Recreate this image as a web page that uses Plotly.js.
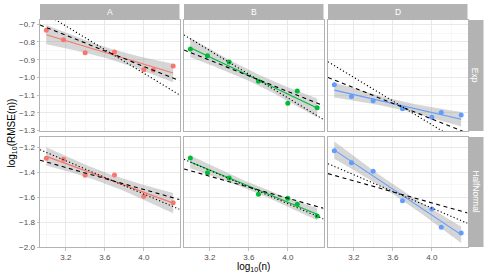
<!DOCTYPE html>
<html>
<head>
<meta charset="utf-8">
<script src="https://cdn.plot.ly/plotly-3.0.1.min.js"></script>
<style>html,body{margin:0;padding:0;background:#fff;}#chart{width:488px;height:279px;}</style>
</head>
<body>
<div id="chart"></div>
<script>
// ---- data ----
const logN = [3.000, 3.176, 3.398, 3.699, 4.000, 4.097, 4.301];
const columns = ["A", "B", "D"];
const rows = ["Exp", "HalfNormal"];
const colColors = ["#F8766D", "#00BA38", "#619CFF"];

const A_Exp = [-0.734, -0.787, -0.860, -0.857, -0.956, -0.958, -0.936];
const B_Exp = [-0.840, -0.877, -0.913, -1.022, -1.145, -1.077, -1.171];
const D_Exp = [-1.041, -1.107, -1.132, -1.177, -1.225, -1.197, -1.212];
const A_HN  = [-1.290, -1.298, -1.426, -1.424, -1.594, null, -1.645];
const B_HN  = [-1.288, -1.405, -1.448, -1.578, -1.610, -1.658, -1.752];
const D_HN  = [-1.229, -1.325, -1.394, -1.629, -1.696, -1.842, -1.888];

// reference lines: value at log10(n)=3 and slope
const dashedAt3 = [-0.718, -0.859, -1.014, -1.320, -1.390, -1.427];
const dottedAt3 = [-0.643, -0.782, -0.933, -1.243, -1.320, -1.355];
const dashedSlope = -0.22;
const dottedSlope = -1/3;

const yTickTop = [-1.3, -1.2, -1.1, -1.0, -0.9, -0.8, -0.7];
const yTickBot = [-2.0, -1.8, -1.6, -1.4, -1.2];
const xTicks = [3.2, 3.6, 4.0];

// ---- layout geometry ----
const W = 488, H = 279;
const colPx = [[40, 179.5], [184, 323.5], [328, 467.5]];
const rowPx = [[20, 131], [137, 247]];
const xRange = [2.935, 4.366];
const yRanges = [[-1.302, -0.676], [-2.0, -1.12]];

const panels = [[A_Exp, B_Exp, D_Exp], [A_HN, B_HN, D_HN]];

function lmFit(x, y) {
  const px = [], py = [];
  for (let i = 0; i < x.length; i++) if (y[i] !== null) { px.push(x[i]); py.push(y[i]); }
  const n = px.length;
  const mx = px.reduce((a, b) => a + b, 0) / n;
  const my = py.reduce((a, b) => a + b, 0) / n;
  let sxx = 0, sxy = 0;
  for (let i = 0; i < n; i++) { sxx += (px[i] - mx) ** 2; sxy += (px[i] - mx) * (py[i] - my); }
  const b = sxy / sxx, a = my - b * mx;
  let sse = 0;
  for (let i = 0; i < n; i++) sse += (py[i] - a - b * px[i]) ** 2;
  const s = Math.sqrt(sse / (n - 2));
  const tq = {4: 2.776, 5: 2.571}[n - 2] || 2.5;
  const xmin = Math.min(...px), xmax = Math.max(...px);
  const gx = [], gy = [], lo = [], hi = [];
  for (let k = 0; k <= 80; k++) {
    const xx = xmin + (xmax - xmin) * k / 80;
    const yy = a + b * xx;
    const se = s * Math.sqrt(1 / n + (xx - mx) ** 2 / sxx);
    gx.push(xx); gy.push(yy); lo.push(yy - tq * se); hi.push(yy + tq * se);
  }
  return {gx, gy, lo, hi};
}

const traces = [];
const layout = {
  width: W, height: H,
  margin: {l: 0, r: 0, t: 0, b: 0},
  paper_bgcolor: "#ffffff", plot_bgcolor: "#ffffff",
  showlegend: false,
  font: {family: "Liberation Sans, Arial, sans-serif", size: 8, color: "#4D4D4D"},
  shapes: [], annotations: []
};

let idx = 0;
for (let r = 0; r < 2; r++) {
  for (let c = 0; c < 3; c++) {
    idx++;
    const xa = idx === 1 ? "x" : "x" + idx;
    const ya = idx === 1 ? "y" : "y" + idx;
    const xk = idx === 1 ? "xaxis" : "xaxis" + idx;
    const yk = idx === 1 ? "yaxis" : "yaxis" + idx;
    const yv = panels[r][c];
    const col = colColors[c];
    const fit = lmFit(logN, yv);
    // ribbon
    traces.push({x: fit.gx.concat(fit.gx.slice().reverse()), y: fit.hi.concat(fit.lo.slice().reverse()),
      xaxis: xa, yaxis: ya, type: "scatter", mode: "lines", fill: "toself",
      fillcolor: "rgba(153,153,153,0.4)", line: {width: 0}, hoverinfo: "skip"});
    // fit line
    traces.push({x: fit.gx, y: fit.gy, xaxis: xa, yaxis: ya, type: "scatter", mode: "lines",
      line: {color: col, width: 1.1}});
    // points
    traces.push({x: logN, y: yv, xaxis: xa, yaxis: ya, type: "scatter", mode: "markers",
      marker: {color: col, size: 5}});
    // reference lines
    const p = idx - 1;
    const xs = [xRange[0], xRange[1]];
    traces.push({x: xs, y: xs.map(v => dashedAt3[p] + dashedSlope * (v - 3)), xaxis: xa, yaxis: ya,
      type: "scatter", mode: "lines", line: {color: "#000000", width: 1.1, dash: "4px,3.5px"}});
    traces.push({x: xs, y: xs.map(v => dottedAt3[p] + dottedSlope * (v - 3)), xaxis: xa, yaxis: ya,
      type: "scatter", mode: "lines", line: {color: "#000000", width: 1.1, dash: "1.2px,2.3px"}});

    const xd = [colPx[c][0] / W, colPx[c][1] / W];
    const yd = [1 - rowPx[r][1] / H, 1 - rowPx[r][0] / H];
    layout[xk] = {
      domain: xd, range: xRange, anchor: ya,
      tickmode: "array", tickvals: xTicks, ticktext: xTicks.map(v => v.toFixed(1)),
      showticklabels: r === 1, ticks: r === 1 ? "outside" : "", ticklen: 2.5, tickwidth: 0.8, tickcolor: "#B3B3B3",
      tickfont: {size: 8, color: "#4D4D4D"},
      showgrid: true, gridcolor: "#E3E3E3", gridwidth: 0.8,
      minor: {tickmode: "array", tickvals: [3.0, 3.4, 3.8, 4.2], showgrid: true, gridcolor: "#F1F1F1", gridwidth: 0.6},
      showline: true, mirror: true, linecolor: "#B3B3B3", linewidth: 1,
      zeroline: false, fixedrange: true
    };
    const yt = r === 0 ? yTickTop : yTickBot;
    const ym = r === 0 ? [-1.25, -1.15, -1.05, -0.95, -0.85, -0.75] : [-1.9, -1.7, -1.5, -1.3];
    layout[yk] = {
      domain: yd, range: yRanges[r], anchor: xa,
      tickmode: "array", tickvals: yt, ticktext: yt.map(v => "\u2212" + Math.abs(v).toFixed(1)),
      showticklabels: c === 0, ticks: c === 0 ? "outside" : "", ticklen: 2.5, tickwidth: 0.8, tickcolor: "#B3B3B3",
      tickfont: {size: 8, color: "#4D4D4D"},
      showgrid: true, gridcolor: "#E3E3E3", gridwidth: 0.8,
      minor: {tickmode: "array", tickvals: ym, showgrid: true, gridcolor: "#F1F1F1", gridwidth: 0.6},
      showline: true, mirror: true, linecolor: "#B3B3B3", linewidth: 1,
      zeroline: false, fixedrange: true
    };
  }
}

// strips
const topStrip = [4 / H, 19.3 / H];
columns.forEach((lab, c) => {
  layout.shapes.push({type: "rect", xref: "paper", yref: "paper",
    x0: colPx[c][0] / W, x1: colPx[c][1] / W, y0: 1 - topStrip[1], y1: 1 - topStrip[0],
    fillcolor: "#B3B3B3", line: {width: 0}});
  layout.annotations.push({xref: "paper", yref: "paper", x: (colPx[c][0] + colPx[c][1]) / 2 / W,
    y: 1 - (topStrip[0] + topStrip[1]) / 2, text: lab, showarrow: false,
    font: {size: 8.5, color: "#ffffff"}, xanchor: "center", yanchor: "middle"});
});
const rightStrip = [468, 483.5];
rows.forEach((lab, r) => {
  layout.shapes.push({type: "rect", xref: "paper", yref: "paper",
    x0: rightStrip[0] / W, x1: rightStrip[1] / W, y0: 1 - rowPx[r][1] / H, y1: 1 - rowPx[r][0] / H,
    fillcolor: "#B3B3B3", line: {width: 0}});
  layout.annotations.push({xref: "paper", yref: "paper", x: (rightStrip[0] + rightStrip[1]) / 2 / W,
    y: 1 - (rowPx[r][0] + rowPx[r][1]) / 2 / H, text: lab, showarrow: false, textangle: 90,
    font: {size: 8.5, color: "#ffffff"}, xanchor: "center", yanchor: "middle"});
});

// axis titles
layout.annotations.push({xref: "paper", yref: "paper", x: 11 / W, y: 1 - 133.5 / H,
  text: "log<sub>10</sub>(RMSE(n))", showarrow: false, textangle: -90,
  font: {size: 10, color: "#000000"}, xanchor: "center", yanchor: "middle"});
layout.annotations.push({xref: "paper", yref: "paper", x: 253.7 / W, y: 1 - 266.5 / H,
  text: "log<sub>10</sub>(n)", showarrow: false,
  font: {size: 10, color: "#000000"}, xanchor: "center", yanchor: "middle"});

Plotly.newPlot("chart", traces, layout, {displayModeBar: false, staticPlot: true});
</script>
</body>
</html>
